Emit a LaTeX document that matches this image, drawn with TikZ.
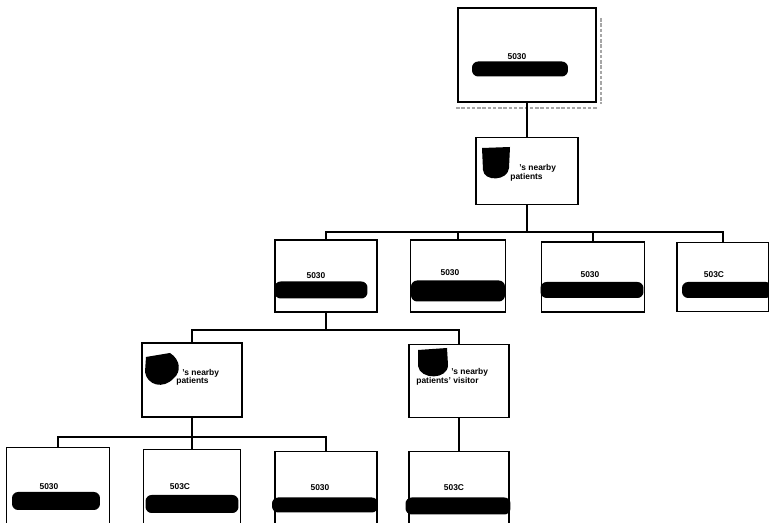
\documentclass[tikz,border=0pt]{standalone}
\usepackage{fontspec}
\setmainfont{Liberation Sans}
\tikzset{
  box/.style={draw,line width=1.1pt,inner sep=0pt},
  blob/.style={fill=black,rounded corners=3.5pt,inner sep=0pt},
  lbl/.style={font=\fontsize{4.8}{5}\selectfont\bfseries,inner sep=0pt},
  link/.style={line width=0.6pt},
  fringe/.style={gray!70,line width=1.6pt,dash pattern=on 2pt off 1pt}
}
\begin{document}
\begin{tikzpicture}[x=0.02cm,y=-0.02cm]
\useasboundingbox (0,0) rectangle (769,523);
\clip (0,0) rectangle (769,523);
% top box
\node[box,minimum width=2.76cm,minimum height=1.88cm] (top) at (527,55) {};
\node[lbl] (t1) at (517,57) {5030};
\node[blob,minimum width=1.92cm,minimum height=0.3cm] (b1) at (520,69) {};
\draw[fringe] (601,18) -- (601,104);
\draw[fringe] (456,108) -- (598,108);
% nearby patients
\node[box,minimum width=2.04cm,minimum height=1.34cm] (pat1) at (527,171) {};
\fill (482,148) -- (510,147) -- (509,168) .. controls (508,181) and (484,182) .. (483,170) -- cycle;
\node[lbl,anchor=west] (t2a) at (519,168) {'s nearby};
\node[lbl,anchor=west] (t2b) at (510,177) {patients};
% third row
\node[box,minimum width=2.04cm,minimum height=1.44cm] (s1) at (326,276) {};
\node[box,minimum width=1.9cm,minimum height=1.44cm] (s2) at (458,276) {};
\node[box,minimum width=2.06cm,minimum height=1.4cm] (s3) at (593,277) {};
\node[box,minimum width=1.84cm,minimum height=1.38cm] (s4) at (723,277) {};
\node[lbl] (t3) at (316,276) {5030};
\node[lbl] (t4) at (450,273) {5030};
\node[lbl] (t5) at (590,275) {5030};
\node[lbl] (t6) at (714,275) {503C};
\node[blob,minimum width=1.86cm,minimum height=0.34cm] (b3) at (321,290) {};
\node[blob,minimum width=1.88cm,minimum height=0.42cm] (b4) at (458,291) {};
\node[blob,minimum width=2.06cm,minimum height=0.32cm] (b5) at (592,290) {};
\node[blob,minimum width=1.8cm,minimum height=0.32cm] (b6) at (727,290) {};
% fourth row
\node[box,minimum width=2cm,minimum height=1.48cm] (pat2) at (192,380) {};
\node[box,minimum width=2cm,minimum height=1.46cm] (pat3) at (459,381) {};
\fill (146,357) -- (170,353) .. controls (181,360) and (181,372) .. (174,378) .. controls (163,390) and (147,385) .. (145,372) -- cycle;
\fill (418,350) -- (447,348) -- (448,365) .. controls (448,380) and (420,380) .. (418,366) -- cycle;
\node[lbl,anchor=west] (t7a) at (182,373) {'s nearby};
\node[lbl,anchor=west] (t7b) at (176,381) {patients};
\node[lbl,anchor=west] (t8a) at (451,372) {'s nearby};
\node[lbl,anchor=west] (t8b) at (416,381) {patients' visitor};
% fifth row
\node[box,minimum width=2.06cm,minimum height=1.7cm] (r1) at (58,490) {};
\node[box,minimum width=1.94cm,minimum height=1.7cm] (r2) at (192,492) {};
\node[box,minimum width=2.04cm,minimum height=1.7cm] (r3) at (326,494) {};
\node[box,minimum width=2cm,minimum height=1.7cm] (r4) at (459,494) {};
\node[lbl] (t9) at (49,487) {5030};
\node[lbl] (t10) at (180,487) {503C};
\node[lbl] (t11) at (320,488) {5030};
\node[lbl] (t12) at (454,488) {503C};
\node[blob,minimum width=1.76cm,minimum height=0.36cm] (b9) at (56,501) {};
\node[blob,minimum width=1.86cm,minimum height=0.36cm] (b10) at (192,504) {};
\node[blob,minimum width=2.12cm,minimum height=0.3cm] (b11) at (325,505) {};
\node[blob,minimum width=2.1cm,minimum height=0.34cm] (b12) at (458,506) {};
% connectors
\coordinate (bar1) at (527,232);
\coordinate (bar2) at (326,330);
\coordinate (bar3) at (192,437);
\draw[link] (top) -- (pat1);
\foreach \c in {s1,s2,s3,s4}
  \draw[link] (pat1.south) -- (pat1.south |- bar1) -| (\c.north);
\foreach \c in {pat2,pat3}
  \draw[link] (s1.south) -- (s1.south |- bar2) -| (\c.north);
\foreach \c in {r1,r2,r3}
  \draw[link] (pat2.south) -- (pat2.south |- bar3) -| (\c.north);
\draw[link] (pat3.south) -- (r4.north);
\end{tikzpicture}
\end{document}
